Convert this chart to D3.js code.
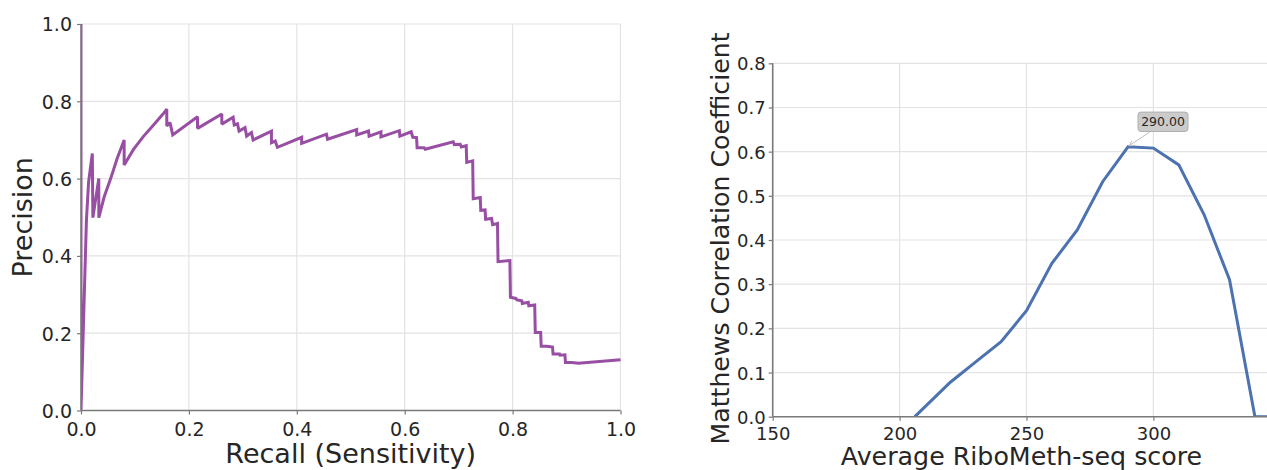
<!DOCTYPE html>
<html>
<head>
<meta charset="utf-8">
<script src="https://cdn.jsdelivr.net/npm/d3@7/dist/d3.min.js"></script>
<style>
  html, body { margin: 0; padding: 0; background: #fff; }
  svg { display: block; font-family: "DejaVu Sans", sans-serif; }
</style>
</head>
<body>
<svg id="chart" width="1267" height="470"></svg>
<script>
// ---------- Data: Precision-Recall curve ----------
const recall = [0, 0, 0.010, 0.014, 0.021, 0.022, 0.033, 0.033, 0.043, 0.055, 0.067, 0.080, 0.080,
  0.097, 0.115, 0.134, 0.152, 0.159, 0.159, 0.165, 0.170, 0.216, 0.216, 0.261, 0.261, 0.282, 0.284,
  0.290, 0.293, 0.304, 0.307, 0.316, 0.319, 0.353, 0.353, 0.360, 0.364, 0.409, 0.409, 0.455, 0.457,
  0.511, 0.511, 0.533, 0.534, 0.556, 0.556, 0.590, 0.591, 0.612, 0.615, 0.622, 0.623, 0.636, 0.638,
  0.690, 0.692, 0.703, 0.705, 0.714, 0.715, 0.726, 0.727, 0.740, 0.741, 0.749, 0.750, 0.761, 0.763,
  0.772, 0.773, 0.795, 0.796, 0.806, 0.808, 0.817, 0.818, 0.829, 0.830, 0.841, 0.842, 0.852, 0.853,
  0.863, 0.874, 0.875, 0.887, 0.888, 0.897, 0.898, 0.910, 0.922, 1.0];
const precision = [1.0, 0.0, 0.49, 0.59, 0.665, 0.499, 0.600, 0.499, 0.553, 0.600, 0.652, 0.700, 0.635,
  0.675, 0.708, 0.738, 0.767, 0.780, 0.736, 0.745, 0.713, 0.760, 0.730, 0.767, 0.741, 0.759, 0.739,
  0.742, 0.723, 0.732, 0.710, 0.719, 0.700, 0.723, 0.693, 0.697, 0.681, 0.707, 0.691, 0.715, 0.702,
  0.727, 0.713, 0.723, 0.710, 0.721, 0.708, 0.724, 0.710, 0.721, 0.707, 0.706, 0.680, 0.680, 0.676,
  0.695, 0.688, 0.689, 0.682, 0.685, 0.642, 0.646, 0.548, 0.551, 0.518, 0.519, 0.495, 0.497, 0.481,
  0.484, 0.385, 0.388, 0.293, 0.290, 0.286, 0.284, 0.277, 0.280, 0.271, 0.273, 0.202, 0.202, 0.166,
  0.166, 0.164, 0.146, 0.146, 0.143, 0.144, 0.124, 0.124, 0.122, 0.131];
const prTicks = [0.0, 0.2, 0.4, 0.6, 0.8, 1.0];

// ---------- Data: MCC vs score ----------
const scores = [206, 220, 230, 240, 250, 260, 270, 280, 290, 300, 310, 320, 330, 340, 350];
const mcc = [0, 0.078, 0.124, 0.170, 0.240, 0.347, 0.423, 0.532, 0.611, 0.608, 0.570, 0.457, 0.310, 0, 0];
const scoreTicks = [150, 200, 250, 300];
const mccTicks = [0.0, 0.1, 0.2, 0.3, 0.4, 0.5, 0.6, 0.7, 0.8];
const annotation = { score: 290, value: 0.611, label: "290.00" };

const svg = d3.select("#chart");
const textColor = "#262626";
const gridColor = "#e3e3e3";
const spineColor = "#7a7a7a";

// ================= LEFT CHART =================
const L = { left: 81, right: 620.5, top: 24, bottom: 410.5 };
const xL = d3.scaleLinear().domain([0, 1]).range([L.left, L.right]);
const yL = d3.scaleLinear().domain([0, 1]).range([L.bottom, L.top]);
const gL = svg.append("g");

// grid
gL.append("g").selectAll("line").data(prTicks).join("line")
  .attr("x1", d => xL(d)).attr("x2", d => xL(d))
  .attr("y1", L.top).attr("y2", L.bottom)
  .attr("stroke", gridColor).attr("stroke-width", 1.2);
gL.append("g").selectAll("line").data(prTicks).join("line")
  .attr("x1", L.left).attr("x2", L.right)
  .attr("y1", d => yL(d)).attr("y2", d => yL(d))
  .attr("stroke", gridColor).attr("stroke-width", 1.2);

// clip
svg.append("clipPath").attr("id", "clipL").append("rect")
  .attr("x", L.left).attr("y", L.top - 2).attr("width", L.right - L.left + 2).attr("height", L.bottom - L.top + 2);

const prData = recall.map((r, i) => [r, precision[i]]);
gL.append("path").datum(prData)
  .attr("clip-path", "url(#clipL)")
  .attr("fill", "none").attr("stroke", "#984ea3").attr("stroke-width", 3)
  .attr("stroke-linejoin", "miter").attr("stroke-miterlimit", 2)
  .attr("d", d3.line().x(d => xL(d[0])).y(d => yL(d[1])));

// axes
const axL_x = d3.axisBottom(xL).tickValues(prTicks).tickFormat(d3.format(".1f")).tickSize(4).tickPadding(4);
const axL_y = d3.axisLeft(yL).tickValues(prTicks).tickFormat(d3.format(".1f")).tickSize(4).tickPadding(4);
const gx = gL.append("g").attr("transform", `translate(0,${L.bottom})`).call(axL_x);
const gy = gL.append("g").attr("transform", `translate(${L.left},0)`).call(axL_y);
[gx, gy].forEach(g => {
  g.select(".domain").attr("stroke", spineColor).attr("stroke-width", 1.6);
  g.selectAll(".tick line").attr("stroke", spineColor).attr("stroke-width", 1.2);
  g.selectAll(".tick text").attr("fill", textColor).attr("font-size", 19)
    .attr("font-family", "DejaVu Sans");
});
gx.selectAll(".tick text").attr("dy", null).attr("y", 25.5);
gy.selectAll(".tick text").attr("x", -9).attr("dy", "0.36em");
gx.select(".domain").attr("d", `M${L.left},0H${L.right}`);
gy.select(".domain").attr("d", `M0,${L.top}V${L.bottom}`);

gL.append("text").attr("x", (L.left + L.right) / 2).attr("y", 463)
  .attr("text-anchor", "middle").attr("font-size", 27).attr("fill", textColor)
  .text("Recall (Sensitivity)");
gL.append("text").attr("transform", `translate(32,${(L.top + L.bottom) / 2}) rotate(-90)`)
  .attr("text-anchor", "middle").attr("font-size", 27).attr("fill", textColor)
  .text("Precision");

// ================= RIGHT CHART =================
const R = { left: 772.7, top: 63.3, bottom: 416.7 };
const pxPerUnit = 126.9 / 50;
const xR = d3.scaleLinear().domain([150, 350]).range([R.left, R.left + 200 * pxPerUnit]);
const yR = d3.scaleLinear().domain([0, 0.8]).range([R.bottom, R.top]);
const gR = svg.append("g");
const rightEdge = 1267;

gR.append("g").selectAll("line").data(scoreTicks.concat([350])).join("line")
  .attr("x1", d => xR(d)).attr("x2", d => xR(d))
  .attr("y1", R.top).attr("y2", R.bottom)
  .attr("stroke", gridColor).attr("stroke-width", 1.2);
gR.append("g").selectAll("line").data(mccTicks).join("line")
  .attr("x1", R.left).attr("x2", rightEdge)
  .attr("y1", d => yR(d)).attr("y2", d => yR(d))
  .attr("stroke", gridColor).attr("stroke-width", 1.2);

svg.append("clipPath").attr("id", "clipR").append("rect")
  .attr("x", R.left).attr("y", R.top - 2).attr("width", rightEdge - R.left).attr("height", R.bottom - R.top + 2);

const mccData = scores.map((s, i) => [s, mcc[i]]);
gR.append("path").datum(mccData)
  .attr("clip-path", "url(#clipR)")
  .attr("fill", "none").attr("stroke", "#4c72b0").attr("stroke-width", 3)
  .attr("d", d3.line().x(d => xR(d[0])).y(d => yR(d[1])));

const axR_x = d3.axisBottom(xR).tickValues(scoreTicks).tickFormat(d3.format("d")).tickSize(4).tickPadding(4);
const axR_y = d3.axisLeft(yR).tickValues(mccTicks).tickFormat(d3.format(".1f")).tickSize(4).tickPadding(4);
const gxr = gR.append("g").attr("transform", `translate(0,${R.bottom})`).call(axR_x);
const gyr = gR.append("g").attr("transform", `translate(${R.left},0)`).call(axR_y);
[gxr, gyr].forEach(g => {
  g.select(".domain").attr("stroke", spineColor).attr("stroke-width", 1.6);
  g.selectAll(".tick line").attr("stroke", spineColor).attr("stroke-width", 1.2);
  g.selectAll(".tick text").attr("fill", textColor).attr("font-size", 18)
    .attr("font-family", "DejaVu Sans");
});
gxr.selectAll(".tick text").attr("dy", null).attr("y", 23.5);
gyr.selectAll(".tick text").attr("x", -7).attr("dy", "0.36em");
gxr.select(".domain").attr("d", `M${R.left},0H${rightEdge}`);
gyr.select(".domain").attr("d", `M0,${R.top}V${R.bottom}`);

gR.append("text").attr("x", 1021.5).attr("y", 465)
  .attr("text-anchor", "middle").attr("font-size", 25.3).attr("fill", textColor)
  .text("Average RiboMeth-seq score");
gR.append("text").attr("transform", `translate(729,238.5) rotate(-90)`)
  .attr("text-anchor", "middle").attr("font-size", 25.2).attr("fill", textColor)
  .text("Matthews Correlation Coefficient");

// annotation
const ax = xR(annotation.score), ay = yR(annotation.value);
const bx = ax + 35, by = ay - 25;
gR.append("line").attr("x1", bx - 13).attr("y1", by + 10).attr("x2", ax + 1).attr("y2", ay - 1)
  .attr("stroke", "#c0c0c0").attr("stroke-width", 1);
gR.append("path")
  .attr("d", `M${ax + 7},${ay - 1.5} L${ax + 1},${ay - 1} L${ax + 4},${ay - 6}`)
  .attr("fill", "none").attr("stroke", "#c0c0c0").attr("stroke-width", 1);
gR.append("rect").attr("x", bx - 25).attr("y", by - 9.7).attr("width", 50).attr("height", 19.4)
  .attr("rx", 3).attr("fill", "#cbcbcb").attr("stroke", "#b0b0b0").attr("stroke-width", 1);
gR.append("text").attr("x", bx).attr("y", by + 4.5).attr("text-anchor", "middle")
  .attr("font-size", 12.5).attr("fill", textColor).text(annotation.label);
</script>
</body>
</html>
